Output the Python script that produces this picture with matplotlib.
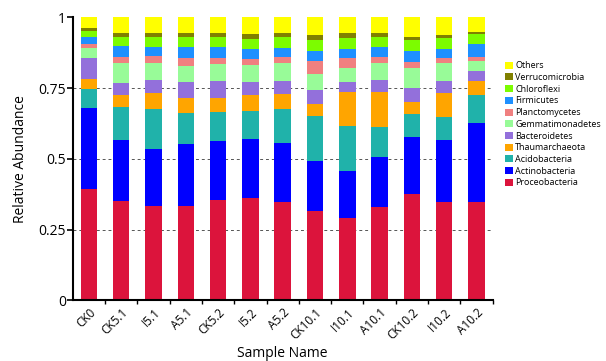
import matplotlib
matplotlib.use("Agg")
import matplotlib.pyplot as plt
import numpy as np

samples = ["CK0", "CK5.1", "I5.1", "A5.1", "CK5.2", "I5.2", "A5.2",
           "CK10.1", "I10.1", "A10.1", "CK10.2", "I10.2", "A10.2"]

# relative abundance of each phylum per sample (bottom to top of the stack)
proteobacteria   = [0.394, 0.351, 0.334, 0.334, 0.354, 0.361, 0.348, 0.315, 0.290, 0.331, 0.375, 0.349, 0.349]
actinobacteria   = [0.285, 0.216, 0.202, 0.217, 0.209, 0.210, 0.209, 0.178, 0.168, 0.175, 0.201, 0.217, 0.277]
acidobacteria    = [0.067, 0.117, 0.140, 0.110, 0.102, 0.098, 0.118, 0.159, 0.159, 0.107, 0.084, 0.082, 0.101]
thaumarchaeota   = [0.036, 0.042, 0.056, 0.054, 0.050, 0.057, 0.053, 0.043, 0.118, 0.124, 0.041, 0.085, 0.048]
bacteroidetes    = [0.075, 0.043, 0.047, 0.057, 0.059, 0.047, 0.047, 0.047, 0.038, 0.042, 0.049, 0.042, 0.034]
gemmatimonadetes = [0.033, 0.069, 0.059, 0.056, 0.060, 0.059, 0.063, 0.059, 0.047, 0.059, 0.070, 0.063, 0.036]
planctomycetes   = [0.015, 0.023, 0.026, 0.027, 0.021, 0.021, 0.021, 0.046, 0.035, 0.023, 0.021, 0.017, 0.014]
firmicutes       = [0.024, 0.038, 0.032, 0.039, 0.041, 0.035, 0.034, 0.035, 0.033, 0.033, 0.039, 0.032, 0.046]
chloroflexi      = [0.024, 0.033, 0.033, 0.038, 0.033, 0.035, 0.036, 0.038, 0.039, 0.035, 0.040, 0.040, 0.036]
verrucomicrobia  = [0.008, 0.014, 0.017, 0.014, 0.017, 0.018, 0.014, 0.018, 0.019, 0.014, 0.009, 0.012, 0.008]
others           = [0.039, 0.054, 0.054, 0.054, 0.054, 0.059, 0.057, 0.062, 0.054, 0.057, 0.071, 0.061, 0.051]

phyla = ["Proceobacteria", "Actinobacteria", "Acidobacteria", "Thaumarchaeota",
         "Bacteroidetes", "Gemmatimonadetes", "Planctomycetes", "Firmicutes",
         "Chloroflexi", "Verrucomicrobia", "Others"]
series = [proteobacteria, actinobacteria, acidobacteria, thaumarchaeota,
          bacteroidetes, gemmatimonadetes, planctomycetes, firmicutes,
          chloroflexi, verrucomicrobia, others]
colors = ["#DC143C", "#0000FF", "#20B2AA", "#FFA500", "#9370DB", "#98FB98",
          "#F08080", "#1E90FF", "#7CFC00", "#808000", "#FFFF00"]

plt.rcParams["font.family"] = ["Open Sans", "DejaVu Sans"]

fig = plt.figure(figsize=(6.06, 3.61), dpi=100)
ax = fig.add_axes([0.12, 0.1676, 0.693, 0.7844])

x = np.arange(len(samples))
bottom = np.zeros(len(samples))
handles = []
for name, vals, c in zip(phyla, series, colors):
    vals = np.array(vals)
    b = ax.bar(x, vals, 0.51, bottom=bottom, color=c, label=name, zorder=2)
    handles.append(b)
    bottom += vals

ax.set_xlim(-0.5, 12.45)
ax.set_ylim(0, 1)
ax.set_yticks([0, 0.25, 0.5, 0.75, 1])
ax.set_yticklabels(["0", "0.25", "0.5", "0.75", "1"], fontsize=10)
for yv in [0.25, 0.5, 0.75]:
    ax.axhline(yv, color="#555555", linestyle=(0, (3, 3)), linewidth=0.7, zorder=1)

ax.set_xticks(x)
ax.set_xticklabels(samples, rotation=45, ha="right", rotation_mode="anchor", fontsize=8.5)
ax.tick_params(axis="x", length=0, pad=4)
ax.set_xticks(np.arange(len(samples)) + 0.5, minor=True)
ax.tick_params(axis="x", which="minor", length=3, width=1)
ax.tick_params(axis="y", length=4, width=1.2, pad=1)

for s in ["top", "right"]:
    ax.spines[s].set_visible(False)
for s in ["left", "bottom"]:
    ax.spines[s].set_linewidth(1.5)

ax.set_xlabel("Sample Name", fontsize=10, labelpad=3)
ax.set_ylabel("Relative Abundance", fontsize=10, labelpad=7)

leg = fig.legend(handles[::-1], phyla[::-1], loc="upper left",
                 bbox_to_anchor=(0.828, 0.84), frameon=False, fontsize=6.5,
                 handlelength=0.8, handleheight=0.8, handletextpad=0.3,
                 labelspacing=0.3, borderaxespad=0)

fig.savefig("out.png", dpi=100)
